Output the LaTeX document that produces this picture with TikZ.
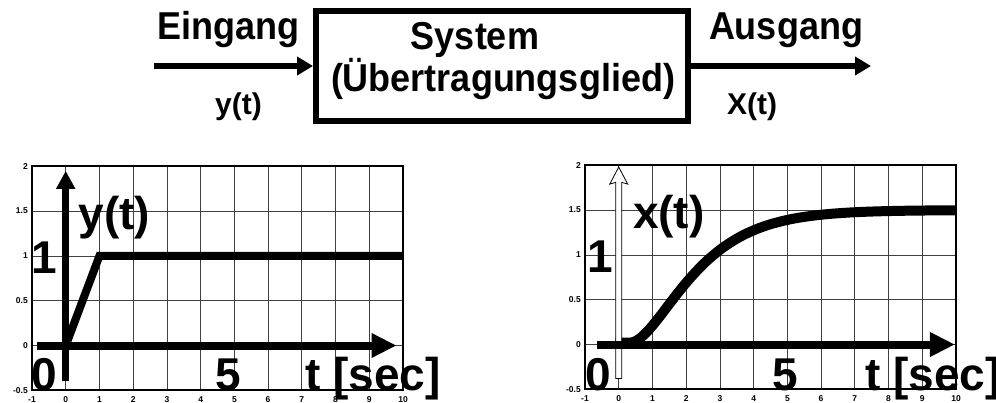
\documentclass[tikz,border=0pt]{standalone}
\usepackage{fontspec}
\setmainfont{Liberation Sans}
\usetikzlibrary{arrows.meta}
\tikzset{
  gridline/.style={draw=black!75, line width=0.7pt},
  frameline/.style={draw=black, line width=2pt},
  ticklbl/.style={font=\fontsize{8.5}{9}\selectfont\bfseries, inner sep=0pt},
  biglbl/.style={font=\fontsize{46}{50}\selectfont\bfseries, inner sep=0pt},
  toplbl/.style={font=\fontsize{36}{40}\selectfont\bfseries, inner sep=0pt},
  siglbl/.style={font=\fontsize{30}{33}\selectfont\bfseries, inner sep=0pt},
  curve/.style={line width=8pt},
  axisx/.style={line width=8pt, -{Triangle[length=25pt,width=23pt]}},
  axisy/.style={line width=7pt, -{Triangle[length=18pt,width=18pt]}},
  sigarrow/.style={line width=6pt, -{Triangle[length=16pt,width=18pt]}},
}
\newcommand{\vst}[1]{\scalebox{1}[1.08]{#1}}
\newcommand{\plotframe}{%
  \foreach \i in {0,...,9} \draw[gridline] (\i,-0.5) -- (\i,2);
  \foreach \j in {0,0.5,1,1.5} \draw[gridline] (-1,\j) -- (10,\j);
  \draw[frameline] (-1,-0.5) rectangle (10,2);
  \foreach \i in {-1,...,10} \node[ticklbl, anchor=base] at (\i,-0.5) [yshift=-12pt] {\i};
  \foreach \j in {-0.5,0,0.5,1,1.5,2} \node[ticklbl, anchor=east] at (-1,\j) [xshift=-4pt] {\j};
}
\begin{document}
\begin{tikzpicture}[x=1pt,y=-1pt]
\useasboundingbox (0,0) rectangle (996,403);

% ---------- block diagram ----------
\node[draw, line width=6pt, minimum width=372pt, minimum height=110pt, inner sep=0pt] (sys) at (502,66) {};
\node[toplbl, anchor=base] (t1) at (475,50) {\vst{System}};
\node[toplbl, anchor=base] (t2) at (503,92) {\vst{(Übertragungsglied)}};
\coordinate (inS) at (154,66);
\coordinate (outE) at (871,66);
\draw[sigarrow] (inS) -- (sys.west);
\draw[sigarrow] (sys.east) -- (outE);
\node[toplbl, anchor=base] (ein) at (228,40) {\vst{Eingang}};
\node[siglbl, anchor=base] (yin) at (238.5,115) {y(t)};
\node[toplbl, anchor=base] (aus) at (786,40) {\vst{Ausgang}};
\node[siglbl, anchor=base] (xout) at (752,115) {X(t)};

% ---------- left plot ----------
\begin{scope}[shift={(65.73,345.5)}, x=33.727pt, y=89.6pt]
  \plotframe
  \node[biglbl, anchor=base] (l0) at (-0.65,-0.5) {0};
  \node[biglbl, anchor=base] (l1) at (-0.65,0.8) {1};
  \node[biglbl, anchor=base] (l5) at (4.83,-0.5) {5};
  \node[biglbl, anchor=base west] (lt) at (7.1,-0.5) {t [sec]};
  \node[biglbl, anchor=base west] (ly) at (0.38,1.3) {y(t)};
  \draw[curve] (0,0) -- (1,1) -- (10,1);
  \coordinate (ly0) at (0,-0.4);
  \coordinate (ly1) at (0,1.95);
  \draw[axisy] (ly0) -- (ly1);
  \coordinate (lx0) at (-0.86,0);
  \coordinate (lx1) at (9.81,0);
  \draw[axisx] (lx0) -- (lx1);
\end{scope}

% ---------- right plot ----------
\begin{scope}[shift={(618.73,344.5)}, x=33.727pt, y=89.6pt]
  \plotframe
  \node[biglbl, anchor=base] (r0) at (-0.6,-0.51) {0};
  \node[biglbl, anchor=base] (r1) at (-0.55,0.8) {1};
  \node[biglbl, anchor=base] (r5) at (4.95,-0.51) {5};
  \node[biglbl, anchor=base west] (rt) at (7.3,-0.51) {t [sec]};
  \node[biglbl, anchor=base west] (rx) at (0.42,1.3) {x(t)};
  \draw[line width=10pt] (-0.1,0.02) -- (0.3,0.02)
    plot[domain=0.3:10, samples=90, smooth] (\x, {1.5*(1-(1+(\x-0.3)/1.1)*exp(-(\x-0.3)/1.1)) + 0.02*exp(-(\x-0.3))});
  \draw[line width=0.8pt, fill=white]
    ([xshift=-3pt]0,-0.38) -- ([xshift=-3pt]0,1.81) -- ([xshift=-9pt]0,1.79) -- (0,1.98)
    -- ([xshift=9pt]0,1.79) -- ([xshift=3pt]0,1.81) -- ([xshift=3pt]0,-0.38) -- cycle;
  \coordinate (rx0) at (-0.65,0);
  \coordinate (rx1) at (9.97,0);
  \draw[axisx] (rx0) -- (rx1);
\end{scope}
\end{tikzpicture}
\end{document}
